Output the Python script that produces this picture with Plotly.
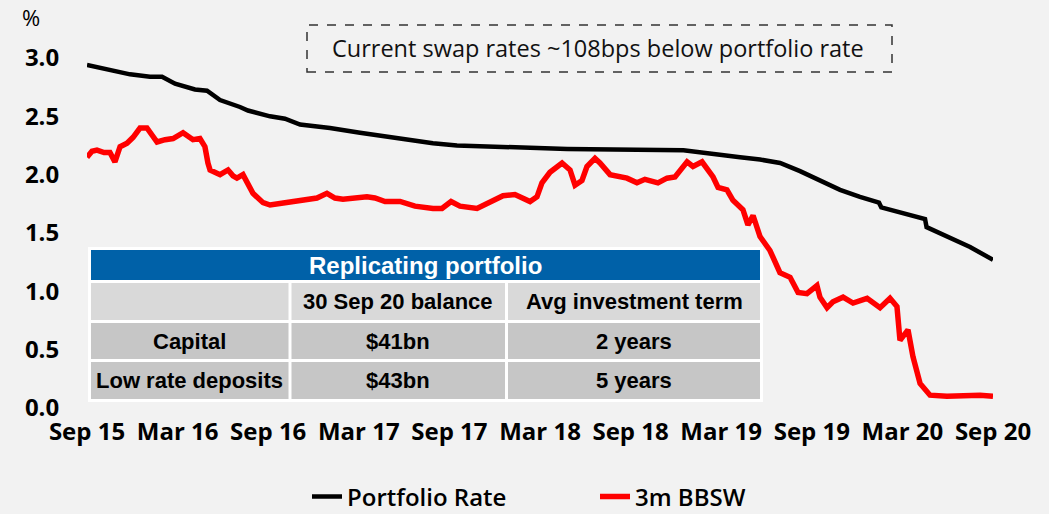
import plotly.graph_objects as go

# months since Sep 2015
port_m = [0, 1.52, 2.85, 4.17, 4.97, 5.83, 7.15, 7.95, 8.81, 10.13, 10.66, 12.12, 13.11, 14.11,
          16.09, 18.08, 20.73, 22.91, 24.5, 27.35, 31.8, 39.5, 42.4, 43.25, 44.57, 45.9, 47.22,
          48.54, 49.54, 49.87, 51.19, 52.45, 52.6, 53.84, 55.5, 55.6, 57.15, 58.48, 60]
port_rate = [2.94, 2.90, 2.86, 2.84, 2.84, 2.78, 2.73, 2.72, 2.64, 2.58, 2.55, 2.50, 2.48, 2.43,
             2.40, 2.36, 2.31, 2.27, 2.25, 2.24, 2.22, 2.21, 2.17, 2.15, 2.13, 2.10, 2.03,
             1.95, 1.89, 1.87, 1.81, 1.76, 1.72, 1.68, 1.62, 1.55, 1.46, 1.38, 1.27]

bbsw_m = [0.0, 0.33, 0.66, 1.13, 1.52, 1.85, 2.19, 2.65, 3.05, 3.51, 3.97, 4.64, 5.17, 5.70,
          6.36, 7.02, 7.48, 7.81, 8.01, 8.15, 8.81, 9.34, 9.67, 9.93, 10.33, 10.66, 10.99,
          11.66, 12.12, 13.11, 14.11, 15.23, 15.89, 16.42, 16.95, 18.54, 19.07, 19.74, 20.73,
          21.72, 22.91, 23.51, 24.11, 24.70, 25.83, 26.89, 27.55, 28.34, 29.34, 29.80, 30.13,
          30.66, 31.46, 31.99, 32.32, 32.78, 33.11, 33.64, 33.97, 34.64, 35.76, 36.42, 36.95,
          37.81, 38.41, 38.94, 39.74, 40.13, 40.73, 41.46, 41.79, 42.38, 42.78, 43.44, 43.77,
          44.11, 44.57, 45.23, 45.89, 46.56, 47.09, 47.68, 48.34, 48.54, 49.01, 49.40, 50.07,
          50.73, 51.66, 52.52, 53.18, 53.64, 53.84, 54.37, 54.70, 55.17, 55.83, 56.95, 59.14, 60.0]
bbsw = [2.15, 2.20, 2.21, 2.19, 2.19, 2.11, 2.24, 2.27, 2.32, 2.40, 2.40, 2.28, 2.30, 2.31,
        2.36, 2.30, 2.31, 2.24, 2.10, 2.04, 2.00, 2.04, 1.99, 1.97, 2.00, 1.92, 1.84,
        1.76, 1.74, 1.76, 1.78, 1.80, 1.84, 1.80, 1.79, 1.81, 1.80, 1.77, 1.77,
        1.73, 1.71, 1.71, 1.77, 1.73, 1.71, 1.77, 1.82, 1.83, 1.77, 1.81, 1.93,
        2.02, 2.10, 2.04, 1.91, 1.95, 2.07, 2.14, 2.10, 2.00, 1.97, 1.93, 1.96,
        1.93, 1.97, 1.98, 2.11, 2.07, 2.11, 1.98, 1.89, 1.87, 1.78, 1.70, 1.57,
        1.65, 1.47, 1.35, 1.16, 1.12, 0.99, 0.98, 1.05, 0.95, 0.86, 0.91, 0.95,
        0.90, 0.94, 0.86, 0.94, 0.87, 0.58, 0.67, 0.44, 0.21, 0.11, 0.10, 0.11, 0.10]

tick_vals = [0, 6, 12, 18, 24, 30, 36, 42, 48, 54, 60]
tick_text = ['Sep 15', 'Mar 16', 'Sep 16', 'Mar 17', 'Sep 17', 'Mar 18',
             'Sep 18', 'Mar 19', 'Sep 19', 'Mar 20', 'Sep 20']

table_title = 'Replicating portfolio'
table_rows = [
    ['', '30 Sep 20 balance', 'Avg investment term'],
    ['Capital', '$41bn', '2 years'],
    ['Low rate deposits', '$43bn', '5 years'],
]
row_fills = ['#D9D9D9', '#C6C6C6', '#C6C6C6']

W, H = 1049, 514
L, R, T, B = 87, 56, 23, 106
PW, PH = W - L - R, H - T - B


def px(x):
    return (x - L) / PW


def py(y):
    return (H - B - y) / PH


fig = go.Figure()
fig.add_trace(go.Scatter(x=port_m, y=port_rate, mode='lines', name='Portfolio Rate',
                         line=dict(color='black', width=4.5)))
fig.add_trace(go.Scatter(x=bbsw_m, y=bbsw, mode='lines', name='3m BBSW',
                         line=dict(color='#FF0000', width=5.5)))

shapes = []
annots = []

# dashed callout box
shapes.append(dict(type='rect', xref='paper', yref='paper',
                   x0=px(307), x1=px(892), y0=py(72), y1=py(25),
                   line=dict(color='#333333', width=1.5, dash='dash')))
annots.append(dict(xref='paper', yref='paper', x=px(598), y=py(48.5),
                   xanchor='center', yanchor='middle',
                   text='Current swap rates ~108bps below portfolio rate', showarrow=False,
                   font=dict(family='Open Sans', size=23.5, color='#111111')))

# table grid
col_edges = [89.5, 290, 506.5, 761.5]
row_edges = [248.5, 281.5, 321.5, 360.5, 400.5]
shapes.append(dict(type='rect', xref='paper', yref='paper', layer='above',
                   x0=px(col_edges[0] - 1.5), x1=px(col_edges[-1] + 1.5),
                   y0=py(row_edges[-1] + 1.5), y1=py(row_edges[0] - 1.5),
                   fillcolor='white', line=dict(width=0)))
shapes.append(dict(type='rect', xref='paper', yref='paper', layer='above',
                   x0=px(col_edges[0] + 1.5), x1=px(col_edges[-1] - 1.5),
                   y0=py(row_edges[1] - 1.5), y1=py(row_edges[0] + 1.5),
                   fillcolor='#0061A8', line=dict(width=0)))
annots.append(dict(xref='paper', yref='paper',
                   x=px((col_edges[0] + col_edges[-1]) / 2), y=py((row_edges[0] + row_edges[1]) / 2),
                   xanchor='center', yanchor='middle',
                   text='<b>' + table_title + '</b>', showarrow=False,
                   font=dict(family='Liberation Sans', size=24, color='white')))
for i, row in enumerate(table_rows):
    top, bot = row_edges[i + 1], row_edges[i + 2]
    for j, txt in enumerate(row):
        lft, rgt = col_edges[j], col_edges[j + 1]
        shapes.append(dict(type='rect', xref='paper', yref='paper', layer='above',
                           x0=px(lft + 1.5), x1=px(rgt - 1.5), y0=py(bot - 1.5), y1=py(top + 1.5),
                           fillcolor=row_fills[i], line=dict(width=0)))
        if txt:
            annots.append(dict(xref='paper', yref='paper', x=px((lft + rgt) / 2), y=py((top + bot) / 2),
                               xanchor='center', yanchor='middle',
                               text='<b>' + txt + '</b>', showarrow=False,
                               font=dict(family='Liberation Sans', size=22, color='black')))

annots.append(dict(xref='paper', yref='paper', x=px(31), y=py(17), xanchor='center', yanchor='middle',
                   text='%', showarrow=False,
                   font=dict(family='Open Sans', size=22, color='black')))

fig.update_layout(
    width=W, height=H,
    margin=dict(l=L, r=R, t=T, b=B),
    paper_bgcolor='#F2F2F2', plot_bgcolor='#F2F2F2',
    font=dict(family='Open Sans', color='black'),
    shapes=shapes, annotations=annots,
    xaxis=dict(range=[0, 60], tickvals=tick_vals, ticktext=tick_text, showgrid=False,
               zeroline=False, showline=False, ticks='', ticklabelstandoff=7,
               tickfont=dict(family='Open Sans', size=24, weight='bold', color='black')),
    yaxis=dict(range=[0, 3.3], tickvals=[0, 0.5, 1, 1.5, 2, 2.5, 3], tickformat='.1f',
               showgrid=False, zeroline=False, showline=False,
               ticks='outside', ticklen=22, tickcolor='rgba(0,0,0,0)',
               tickfont=dict(family='Open Sans', size=24, weight='bold', color='black')),
    legend=dict(orientation='h', x=px(307), xanchor='left', xref='paper',
                y=(H - 497) / H, yanchor='middle', yref='container',
                font=dict(family='Open Sans', size=24, weight=600, color='black'),
                entrywidth=243, entrywidthmode='pixels', bgcolor='rgba(0,0,0,0)'),
    showlegend=True,
)

fig.write_html('out.html', post_script="document.body.style.margin='0';",
               config={'displayModeBar': False})
